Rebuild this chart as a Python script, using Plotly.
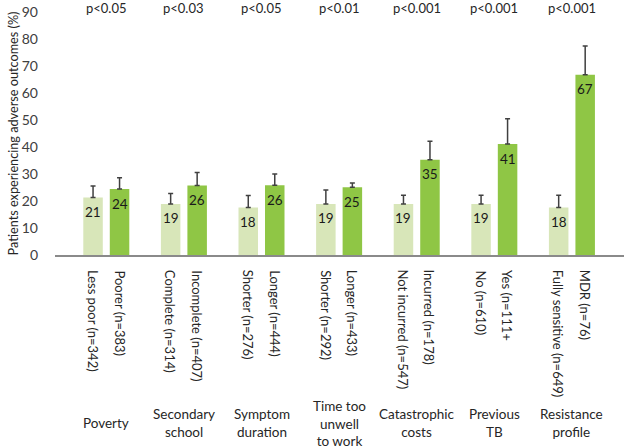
import plotly.graph_objects as go

# Groups (x categories) and the two bars within each group
groups = ["Poverty", "Secondary<br>school", "Symptom<br>duration",
          "Time too<br>unwell<br>to work", "Catastrophic<br>costs",
          "Previous<br>TB", "Resistance<br>profile"]
p_values = ["p<0.05", "p<0.03", "p<0.05", "p<0.01", "p<0.001", "p<0.001", "p<0.001"]

ref_labels = ["Less poor (n=342)", "Complete (n=314)", "Shorter (n=276)",
              "Shorter (n=292)", "Not incurred (n=547)", "No (n=610)",
              "Fully sensitive (n=649)"]
risk_labels = ["Poorer (n=383)", "Incomplete (n=407)", "Longer (n=444)",
               "Longer (n=433)", "Incurred (n=178)", "Yes (n=111+",
               "MDR (n=76)"]

# % of patients with adverse outcomes, and upper 95% CI
ref_values = [21.3, 18.9, 17.6, 18.9, 18.9, 18.9, 17.6]
risk_values = [24.4, 25.7, 25.8, 25.1, 35.3, 41.1, 66.8]
ref_upper = [25.6, 22.8, 22.0, 24.1, 22.1, 22.1, 22.1]
risk_upper = [28.6, 30.6, 30.0, 26.7, 42.1, 50.5, 77.4]

LIGHT = "#d8e6b9"
DARK = "#8fc645"
FONT = "Lato"
TXT = "#262626"

fig = go.Figure()

for vals, upper, color in [(ref_values, ref_upper, LIGHT),
                           (risk_values, risk_upper, DARK)]:
    fig.add_trace(go.Bar(
        x=groups, y=vals, marker=dict(color=color, line=dict(width=0)),
        error_y=dict(type="data", symmetric=False,
                     array=[u - v for u, v in zip(upper, vals)],
                     arrayminus=[0] * len(vals),
                     color="#404040", thickness=1.5, width=2.5),
        hoverinfo="skip",
    ))

ann = []
slot = 13.25  # half distance between bar centres in px
for i, g in enumerate(groups):
    for sign, vals, lab in [(-1, ref_values, ref_labels), (1, risk_values, risk_labels)]:
        # value inside bar
        ann.append(dict(x=g, y=vals[i], xref="x", yref="y", text=str(round(vals[i])),
                        xshift=sign * slot, yshift=-14.5, yanchor="middle",
                        showarrow=False, font=dict(family=FONT, size=13.5, color="#1a1a1a")))
        # rotated bar label
        ann.append(dict(x=g, y=0, xref="x", yref="y", text=lab[i], textangle=90,
                        xshift=sign * slot, yshift=-13, yanchor="top", xanchor="center",
                        showarrow=False, font=dict(family=FONT, size=13, color=TXT)))
    # group name
    ann.append(dict(x=g, y=0, xref="x", yref="y", text=g, yshift=-168,
                    yanchor="middle", showarrow=False,
                    font=dict(family=FONT, size=13.5, color=TXT)))
    # p value
    ann.append(dict(x=g, y=90, xref="x", yref="y", text=p_values[i], yshift=4,
                    yanchor="middle", showarrow=False,
                    font=dict(family=FONT, size=13, color=TXT)))

fig.update_layout(
    width=624, height=448,
    margin=dict(l=55, r=0, t=12, b=193, autoexpand=False),
    paper_bgcolor="white", plot_bgcolor="white",
    barmode="group", bargap=0.317, bargroupgap=0.264,
    showlegend=False,
    font=dict(family=FONT, color=TXT),
    annotations=ann,
)
fig.update_xaxes(range=[-0.661, 6.671], showticklabels=False, showgrid=False,
                 showline=True, linecolor="#8a8a8a", linewidth=1.5, zeroline=False)
fig.update_yaxes(range=[0, 90], dtick=10, showgrid=False, zeroline=False,
                 showline=False, ticks="", ticklabelstandoff=16, automargin=False,
                 tickfont=dict(family=FONT, size=14, color="#404040"),
                 title=dict(text="Patients experiencing adverse outcomes (%)",
                            font=dict(family=FONT, size=12.7, color=TXT), standoff=0))

# drop the browser's default body margin so the figure sits at the page corner
fig.write_html("out.html", config={"displayModeBar": False},
               post_script="document.body.style.margin='0';")
